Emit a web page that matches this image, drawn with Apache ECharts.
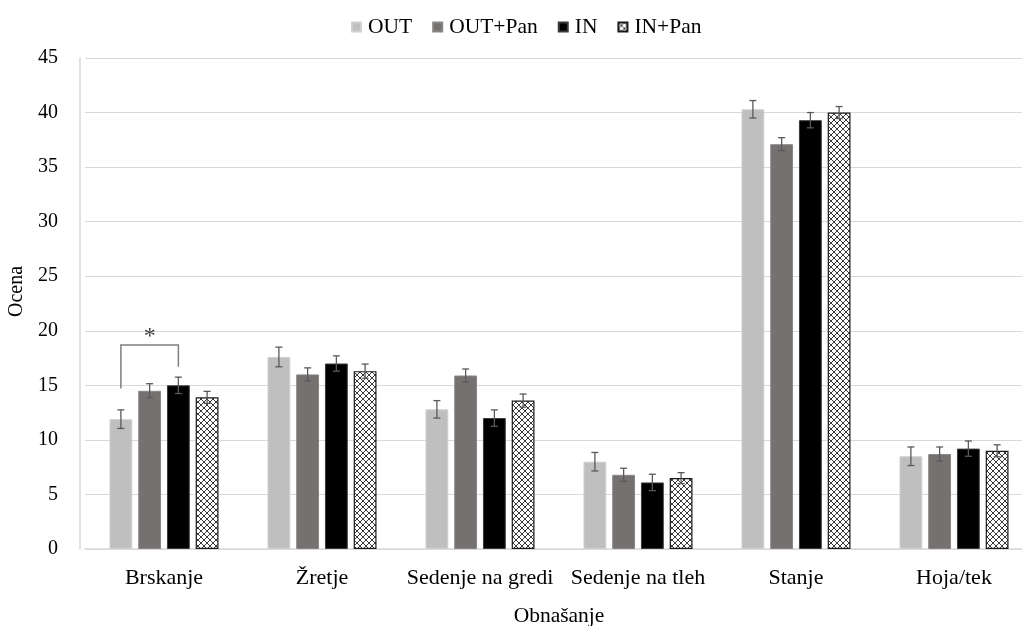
<!DOCTYPE html>
<html>
<head>
<meta charset="utf-8">
<script src="https://cdn.jsdelivr.net/npm/echarts@6/dist/echarts.min.js"></script>
<style>
html,body{margin:0;padding:0;background:#fff;}
#chart{width:1022px;height:626px;}
</style>
</head>
<body>
<div id="chart"></div>
<script>
const categories = ['Brskanje', 'Žretje', 'Sedenje na gredi', 'Sedenje na tleh', 'Stanje', 'Hoja/tek'];
const seriesNames = ['OUT', 'OUT+Pan', 'IN', 'IN+Pan'];
const outVals    = [11.9, 17.6, 12.8, 8.0, 40.3, 8.5];
const outPanVals = [14.5, 16.0, 15.9, 6.8, 37.1, 8.7];
const inVals     = [15.0, 17.0, 12.0, 6.1, 39.3, 9.2];
const inPanVals  = [13.9, 16.3, 13.6, 6.5, 40.0, 9.0];
const outErr     = [0.85, 0.9, 0.8, 0.85, 0.8, 0.85];
const outPanErr  = [0.65, 0.6, 0.6, 0.6, 0.6, 0.65];
const inErr      = [0.75, 0.7, 0.75, 0.75, 0.7, 0.7];
const inPanErr   = [0.55, 0.65, 0.6, 0.5, 0.55, 0.55];
// significance bracket: category index, from series, to series, left leg base, right leg base, top, label
const bracketCategory = [0];
const bracketSeries = [0, 2];
const bracketLevels = [14.7, 16.7, 18.7];
const bracketLabel = ['*'];

const values = [outVals, outPanVals, inVals, inPanVals];
const errors = [outErr, outPanErr, inErr, inPanErr];

const CAT_GAP = 0.31, BAR_GAP = 0.26, N = 4;
const FONT = '"Liberation Serif", "Times New Roman", serif';

function makeHatch() {
  const c = document.createElement('canvas');
  const s = 6;
  c.width = s; c.height = s;
  const ctx = c.getContext('2d');
  ctx.fillStyle = '#ffffff';
  ctx.fillRect(0, 0, s, s);
  ctx.strokeStyle = '#3a3a3a';
  ctx.lineWidth = 1;
  ctx.beginPath();
  ctx.moveTo(0, 0); ctx.lineTo(s, s);
  ctx.moveTo(s, 0); ctx.lineTo(0, s);
  ctx.stroke();
  return c;
}

const barStyles = [
  {color: '#bfbfbf', borderColor: '#d0d0d0', borderWidth: 1},
  {color: '#767171', borderColor: '#8a8585', borderWidth: 1},
  {color: '#000000', borderColor: '#3a3a3a', borderWidth: 1},
  {color: {image: makeHatch(), repeat: 'repeat'}, borderColor: '#1a1a1a', borderWidth: 1.2}
];

function barOffset(api, s) {
  const band = api.size([1, 0])[0];
  const bw = band * (1 - CAT_GAP) / (N + (N - 1) * BAR_GAP);
  const step = bw * (1 + BAR_GAP);
  return (s - (N - 1) / 2) * step;
}

const errData = [];
values.forEach((arr, s) => arr.forEach((v, c) => errData.push([c, s, v, errors[s][c]])));

const series = seriesNames.map((name, s) => ({
  name: name,
  type: 'bar',
  data: values[s],
  barGap: (BAR_GAP * 100) + '%',
  barCategoryGap: (CAT_GAP * 100) + '%',
  itemStyle: barStyles[s],
  emphasis: {disabled: true}
}));

series.push({
  type: 'custom',
  name: 'err',
  data: errData,
  encode: {x: 0, y: 2},
  z: 10,
  silent: true,
  renderItem: function (params, api) {
    const c = api.value(0), s = api.value(1), v = api.value(2), e = api.value(3);
    const x = api.coord([c, 0])[0] + barOffset(api, s);
    const yt = api.coord([c, v + e])[1];
    const yb = api.coord([c, v - e])[1];
    const cap = 3.5;
    const st = {stroke: '#595959', lineWidth: 1.3};
    return {type: 'group', children: [
      {type: 'line', shape: {x1: x, y1: yt, x2: x, y2: yb}, style: st},
      {type: 'line', shape: {x1: x - cap, y1: yt, x2: x + cap, y2: yt}, style: st},
      {type: 'line', shape: {x1: x - cap, y1: yb, x2: x + cap, y2: yb}, style: st}
    ]};
  }
});

series.push({
  type: 'custom',
  name: 'sig',
  data: [[bracketCategory[0], bracketLevels[2]]],
  encode: {x: 0, y: 1},
  z: 11,
  silent: true,
  renderItem: function (params, api) {
    const c = api.value(0);
    const cx = api.coord([c, 0])[0];
    const x1 = cx + barOffset(api, bracketSeries[0]);
    const x2 = cx + barOffset(api, bracketSeries[1]);
    const yl = api.coord([c, bracketLevels[0]])[1];
    const yr = api.coord([c, bracketLevels[1]])[1];
    const yt = api.coord([c, bracketLevels[2]])[1];
    return {type: 'group', children: [
      {type: 'polyline', shape: {points: [[x1, yl], [x1, yt], [x2, yt], [x2, yr]]},
       style: {stroke: '#7f7f7f', lineWidth: 1.5, fill: null}},
      {type: 'text', style: {text: bracketLabel[0], x: (x1 + x2) / 2, y: yt + 4,
        align: 'center', verticalAlign: 'bottom', font: '24px ' + FONT, fill: '#404040'}}
    ]};
  }
});

const chart = echarts.init(document.getElementById('chart'), null, {renderer: 'canvas'});
chart.setOption({
  animation: false,
  backgroundColor: '#ffffff',
  legend: {
    data: seriesNames,
    left: 346,
    top: 11,
    itemWidth: 9,
    itemHeight: 9,
    itemGap: 20,
    icon: 'rect',
    textStyle: {fontFamily: FONT, fontSize: 21.5, color: '#000', padding: [0, 0, 0, 2]}
  },
  grid: {left: 85, top: 58, right: -11, bottom: 77, containLabel: false, outerBoundsMode: 'none'},
  xAxis: {
    type: 'category',
    data: categories,
    name: 'Obnašanje',
    nameLocation: 'middle',
    nameGap: 56,
    nameTextStyle: {fontFamily: FONT, fontSize: 21.5, color: '#000'},
    axisTick: {show: false},
    axisLine: {lineStyle: {color: '#d9d9d9', width: 1.5}},
    axisLabel: {fontFamily: FONT, fontSize: 22, color: '#000', margin: 18, interval: 0}
  },
  yAxis: {
    type: 'value',
    min: 0, max: 45, interval: 5,
    offset: 5,
    name: 'Ocena',
    nameLocation: 'middle',
    nameGap: 49,
    nameTextStyle: {fontFamily: FONT, fontSize: 20, color: '#000', padding: [0, 0, 0, 24]},
    axisLine: {show: true, lineStyle: {color: '#d9d9d9', width: 1.5}},
    axisTick: {show: false},
    axisLabel: {fontFamily: FONT, fontSize: 20, color: '#000', margin: 22},
    splitLine: {lineStyle: {color: '#d9d9d9', width: 1}}
  },
  series: series
});
</script>
</body>
</html>
